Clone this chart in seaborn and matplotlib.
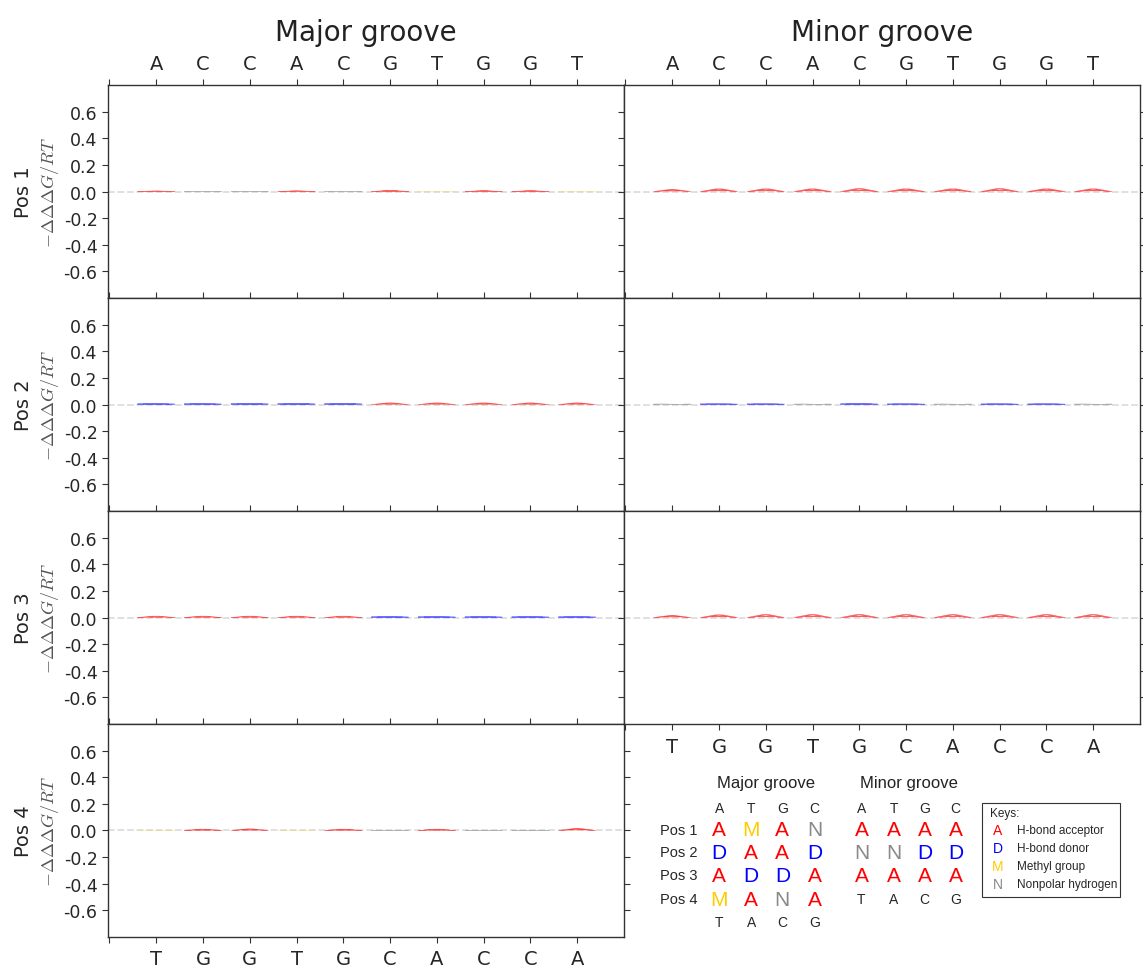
import matplotlib
matplotlib.use("Agg")
import matplotlib.pyplot as plt
from matplotlib.textpath import TextPath
from matplotlib.patches import PathPatch, Rectangle
from matplotlib.font_manager import FontProperties
from matplotlib.transforms import Affine2D
import seaborn as sns

# sequences along the x axis
top_seq = ["A", "C", "C", "A", "C", "G", "T", "G", "G", "T"]
bottom_seq = ["T", "G", "G", "T", "G", "C", "A", "C", "C", "A"]

# chemical code of each base, per groove and position
key_bases = ["A", "T", "G", "C"]
key_bottom = ["T", "A", "C", "G"]
major_codes = [["A", "M", "A", "N"],
               ["D", "A", "A", "D"],
               ["A", "D", "D", "A"],
               ["M", "A", "N", "A"]]
minor_codes = [["A", "A", "A", "A"],
               ["N", "N", "D", "D"],
               ["A", "A", "A", "A"]]

# -ddd G / RT per base (tiny)
major_vals = [[0.004, 0.001, 0.001, 0.005, 0.001, 0.008, 0.0005, 0.006, 0.006, 0.0005],
              [0.006, 0.006, 0.007, 0.007, 0.007, 0.012, 0.012, 0.012, 0.012, 0.012],
              [0.010, 0.010, 0.010, 0.010, 0.010, 0.006, 0.006, 0.006, 0.006, 0.006],
              [0.0005, 0.010, 0.012, 0.0005, 0.010, 0.001, 0.010, 0.001, 0.001, 0.015]]
minor_vals = [[0.015, 0.020, 0.020, 0.020, 0.022, 0.020, 0.020, 0.022, 0.020, 0.020],
              [0.004, 0.005, 0.005, 0.004, 0.006, 0.005, 0.004, 0.005, 0.005, 0.004],
              [0.015, 0.020, 0.022, 0.022, 0.022, 0.022, 0.022, 0.022, 0.022, 0.022]]

pos_names = ["Pos 1", "Pos 2", "Pos 3", "Pos 4"]
y_ticks = [-0.6, -0.4, -0.2, 0.0, 0.2, 0.4, 0.6]
code_colors = {"A": "#ff0000", "D": "#0000ff", "M": "#ffcc00", "N": "#888888"}
code_names = {"A": "H-bond acceptor", "D": "H-bond donor",
              "M": "Methyl group", "N": "Nonpolar hydrogen"}

sns.set_style("ticks")
plt.rcParams["font.family"] = ["DejaVu Sans"]
plt.rcParams["axes.unicode_minus"] = False
plt.rcParams["mathtext.fontset"] = "cm"

letter_font = FontProperties(family="DejaVu Sans")


def draw_letter(ax, ch, x, h, color, width=0.8):
    tp = TextPath((0, 0), ch, size=1, prop=letter_font)
    bb = tp.get_extents()
    tr = (Affine2D().translate(-bb.x0, -bb.y0)
          .scale(width / bb.width, h / bb.height)
          .translate(x - width / 2, 0))
    lw = 0.4 if ch != "M" else 0.15
    ax.add_patch(PathPatch(tr.transform_path(tp), fc=color, ec=color,
                           lw=lw, alpha=0.55))


def draw_logo(ax, codes, vals):
    code_of = dict(zip(key_bases, codes))
    for i, (b, v) in enumerate(zip(top_seq, vals)):
        c = code_of[b]
        draw_letter(ax, c, i, v, code_colors[c])


fig, axes = plt.subplots(4, 2, figsize=(11.43, 9.7), dpi=100)
plt.subplots_adjust(left=0.0945, right=0.9974, top=0.9113, bottom=0.033,
                    wspace=0, hspace=0)

for col in range(2):
    for row in range(4):
        ax = axes[row, col]
        if col == 1 and row == 3:
            continue
        ax.set_xlim(-1.03, 10)
        ax.set_ylim(-0.8, 0.8)
        ax.axhline(0, color="#dddddd", ls="--", lw=1.3, zorder=0)
        for s in ax.spines.values():
            s.set_color("#333333")
            s.set_linewidth(1)
        ax.set_xticks(range(-1, 10))
        ax.set_yticks(y_ticks)
        ax.tick_params(axis="both", direction="out", length=4,
                       color="#333333", labelsize=12.5, right=True, top=True)
        ax.tick_params(axis="x", labelsize=14, pad=5)
        if row == 0:
            ax.xaxis.tick_top()
            ax.tick_params(axis="x", bottom=True)
            ax.set_xticklabels([""] + top_seq)
        elif (col == 0 and row == 3) or (col == 1 and row == 2):
            ax.set_xticklabels([""] + bottom_seq)
        else:
            ax.set_xticklabels([])
        if col == 0:
            ax.set_yticklabels(["%.1f" % t for t in y_ticks])
            ax.set_ylabel(r"$-\Delta\Delta\Delta G/RT$", color="#555555",
                          fontsize=13, labelpad=2)
            ax.text(-0.163, 0.5, pos_names[row], transform=ax.transAxes,
                    rotation=90, ha="center", va="center", fontsize=14)
            draw_logo(ax, major_codes[row], major_vals[row])
        else:
            ax.set_yticklabels([])
            draw_logo(ax, minor_codes[row], minor_vals[row])

axes[0, 0].set_title("Major groove", fontsize=20, pad=10, color="#222222")
axes[0, 1].set_title("Minor groove", fontsize=20, pad=10, color="#222222")

# key panel
kax = axes[3, 1]
kax.set_axis_off()
kax.set_xlim(625, 1140)
kax.set_ylim(938, 724)
kf = ["Liberation Sans", "DejaVu Sans"]

major_x = [720, 752, 783, 815]
minor_x = [862, 894, 925, 956]
row_y = [830, 853, 876, 900]

kax.text(767, 783, "Major groove", ha="center", va="center", fontsize=12,
         family=kf, color="#222222")
kax.text(909, 783, "Minor groove", ha="center", va="center", fontsize=12,
         family=kf, color="#222222")
for j in range(4):
    kax.text(major_x[j], 808, key_bases[j], ha="center", va="center",
             fontsize=10, family=kf)
    kax.text(minor_x[j], 808, key_bases[j], ha="center", va="center",
             fontsize=10, family=kf)
    kax.text(major_x[j], 923, key_bottom[j], ha="center", va="center",
             fontsize=10, family=kf)
    kax.text(minor_x[j], 900, key_bottom[j], ha="center", va="center",
             fontsize=10, family=kf)
for r in range(4):
    kax.text(698, row_y[r], pos_names[r], ha="right", va="center",
             fontsize=10.5, family=kf)
    for j in range(4):
        c = major_codes[r][j]
        kax.text(major_x[j], row_y[r], c, ha="center", va="center",
                 fontsize=15, family=kf, color=code_colors[c])
        if r < 3:
            c = minor_codes[r][j]
            kax.text(minor_x[j], row_y[r], c, ha="center", va="center",
                     fontsize=15, family=kf, color=code_colors[c])

kax.add_patch(Rectangle((982, 803), 138, 95, fill=False, ec="#333333",
                        lw=0.8, clip_on=False))
kax.text(990, 813, "Keys:", ha="left", va="center", fontsize=8.5, family=kf)
for k, c in enumerate(["A", "D", "M", "N"]):
    yk = 831 + k * 18
    kax.text(998, yk, c, ha="center", va="center", fontsize=10,
             family=kf, color=code_colors[c])
    kax.text(1017, yk, code_names[c], ha="left", va="center", fontsize=8.5,
             family=kf)

plt.savefig("out.png", dpi=100)
